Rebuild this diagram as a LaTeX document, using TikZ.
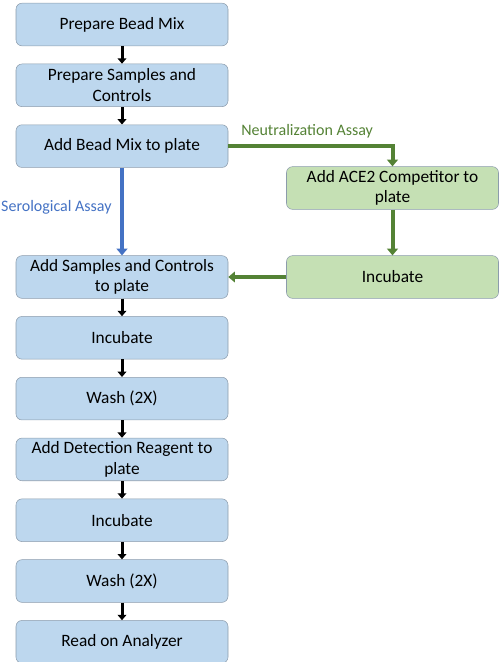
\documentclass[tikz,border=0pt]{standalone}
\usepackage{fontspec}
\setmainfont{Carlito}
\usepackage{tikz}
\usetikzlibrary{positioning,arrows.meta}
\definecolor{stepBlue}{HTML}{BDD7EE}
\definecolor{stepGreen}{HTML}{C5E0B4}
\definecolor{lineGreen}{HTML}{548235}
\definecolor{lineBlue}{HTML}{4472C4}
\definecolor{edgeGray}{HTML}{8C9CAC}
\tikzset{
  box/.style={draw=edgeGray,rounded corners=4.5pt,fill=stepBlue,align=center,
    minimum width=159pt,minimum height=32pt,inner sep=1pt,font=\fontsize{13}{15.5}\selectfont},
  gbox/.style={box,fill=stepGreen},
  arr/.style={-{Triangle[width=6.5pt,length=4pt]},line width=2.25pt},
  garr/.style={-{Triangle[width=8pt,length=5pt]},line width=3pt,lineGreen},
  barr/.style={-{Triangle[width=8pt,length=5pt]},line width=3pt,lineBlue},
  tag/.style={font=\fontsize{12}{14}\selectfont},
}
\begin{document}
\begin{tikzpicture}[x=0.75pt,y=-0.75pt,node distance=13.2pt]
\useasboundingbox (0,0) rectangle (500,662);
% main column
\node[box] (bead) at (122,24.5) {Prepare Bead Mix};
\node[box, below=of bead] (samp) {Prepare Samples and\\Controls};
\node[box, below=of samp] (addbead) {Add Bead Mix to plate};
\node[box] (addsamp) at (122,277) {Add Samples and Controls\\to plate};
\node[box, below=of addsamp] (inc1) {Incubate};
\node[box, below=of inc1] (wash1) {Wash (2X)};
\node[box, below=of wash1] (detect) {Add Detection Reagent to\\plate};
\node[box, below=of detect] (inc2) {Incubate};
\node[box, below=of inc2] (wash2) {Wash (2X)};
\node[box, below=of wash2] (read) {Read on Analyzer};
% neutralization branch
\node[gbox] (ace) at (392.5,188) {Add ACE2 Competitor to\\plate};
\node[gbox] (incg) at (392.5,277) {Incubate};

\foreach \a/\b in {bead/samp,samp/addbead,addsamp/inc1,inc1/wash1,wash1/detect,detect/inc2,inc2/wash2,wash2/read}
  \draw[arr] (\a) -- (\b);

\draw[barr] (addbead) -- node[left, tag, text=lineBlue, pos=0.45, xshift=-3pt]{Serological Assay} (addsamp);
\draw[garr] (addbead.east) -| node[pos=0.24, above, tag, text=lineGreen, yshift=1pt]{Neutralization Assay} (ace.north);
\draw[garr] (ace) -- (incg);
\draw[garr] (incg) -- (addsamp);
\end{tikzpicture}
\end{document}
